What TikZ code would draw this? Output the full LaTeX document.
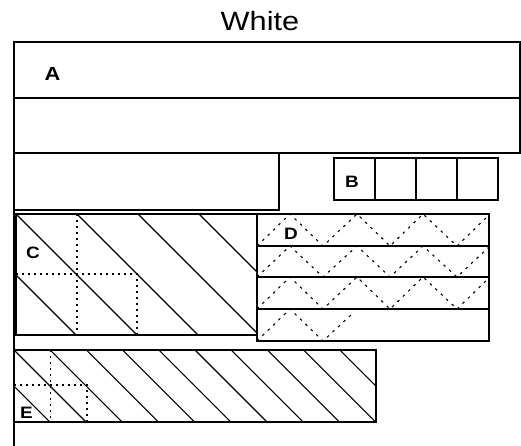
\documentclass[tikz,border=0pt]{standalone}
\usepackage{fontspec}
\setmainfont{Liberation Sans}
\usetikzlibrary{positioning}

\begin{document}
\begin{tikzpicture}[x=1pt,y=-1pt,
  box/.style={draw,line width=1.5pt},
  hatch/.style={line width=1.1pt},
  dotgrid/.style={line width=1.3pt,dash pattern=on 2pt off 4pt},
  zigzag/.style={line width=1.1pt,dash pattern=on 2.5pt off 5pt},
  lbl/.style={font=\bfseries\fontsize{16.5}{18}\selectfont,inner sep=0pt,xscale=1.15}]
  \useasboundingbox (0,0) rectangle (521,446);

  % title
  \node[font=\fontsize{26.5}{31}\selectfont,xscale=1.16,anchor=base] (title) at (260,30.5) {White};

  % top bars
  \draw[box] (14,42) rectangle (520,98);
  \draw[box] (14,98) rectangle (520,153);
  \draw[box] (14,153) rectangle (279,210);
  \draw[box] (14,42) -- (14,446);

  % B cells
  \foreach \x in {334,375,416,457}
    \draw[box] (\x,158) rectangle +(41,42);

  % C
  \begin{scope}
    \clip (16,214) rectangle (257,335);
    \foreach \s in {-45,16,77,138,199}
      \draw[hatch] (\s,214) -- ++(125,125);
  \end{scope}
  \draw[dotgrid] (77,214) -- (77,335);
  \draw[dotgrid] (16,274) -- (137,274) -- (137,335);
  \draw[box] (16,214) rectangle (257,335);

  % D
  \begin{scope}
    \clip (257,214) rectangle (489,341);
    \foreach \ya/\yb in {214/246,246/277,277/309}
      \draw[zigzag] (257,\yb) -- (290,\ya) -- (323,\yb) -- (357,\ya)
        -- (390,\yb) -- (423,\ya) -- (457,\yb) -- (490,\ya);
    \draw[zigzag] (257,341) -- (290,309) -- (323,341) -- (353,313);
  \end{scope}
  \foreach \ya/\yb in {214/246,246/277,277/309,309/341}
    \draw[box] (257,\ya) rectangle (489,\yb);

  % E
  \begin{scope}
    \clip (14,350) rectangle (376,422);
    \foreach \k in {-1,...,9}
      \draw[hatch] ({14+36.2*\k},350) -- ++(72,72);
  \end{scope}
  \draw[dotgrid] (50.7,350) -- (50.7,422);
  \draw[dotgrid] (14,385) -- (87,385) -- (87,422);
  \draw[box] (14,350) rectangle (376,422);

  % labels
  \node[lbl,font=\bfseries\fontsize{19}{21}\selectfont] (labA) at (52.5,73.5) {A};
  \node[lbl] (labB) at (352,182) {B};
  \node[lbl] (labC) at (33,253) {C};
  \node[lbl] (labD) at (291,234) {D};
  \node[lbl] (labE) at (26.5,413) {E};
\end{tikzpicture}
\end{document}
